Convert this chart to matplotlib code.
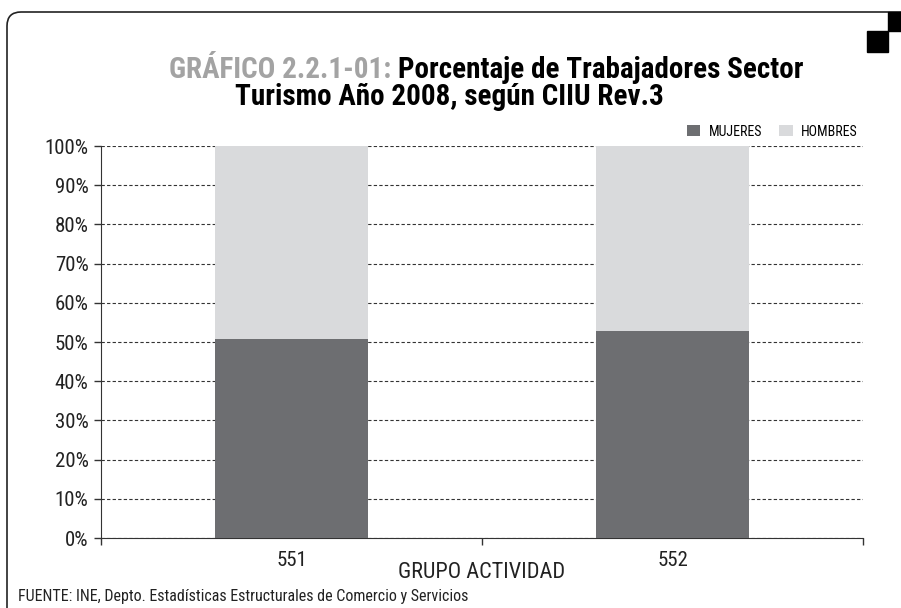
import matplotlib
matplotlib.use("Agg")
import matplotlib.pyplot as plt
from matplotlib.patches import FancyBboxPatch, Rectangle
from matplotlib.transforms import IdentityTransform

# data
grupos = ["551", "552"]
mujeres = [50.8, 52.8]
hombres = [100 - m for m in mujeres]
yticks = list(range(0, 101, 10))

c_muj = "#6d6e71"
c_hom = "#d9dadc"

plt.rcParams['font.family'] = ['Roboto Condensed', 'Liberation Sans Narrow', 'Roboto', 'DejaVu Sans']

W, H = 901, 608
fig = plt.figure(figsize=(W / 100, H / 100), dpi=100)
ax = fig.add_axes([101 / W, 1 - 538 / H, 762 / W, 392 / H])

x = range(len(grupos))
ax.bar(x, mujeres, width=0.404, color=c_muj, zorder=3, label="MUJERES")
ax.bar(x, hombres, width=0.404, bottom=mujeres, color=c_hom, zorder=3, label="HOMBRES")

ax.set_xlim(-0.5, 1.5)
ax.set_ylim(0, 100)
ax.set_yticks(yticks)
ax.set_yticklabels([f"{t}%" for t in yticks], fontsize=15, color="#222222")
ax.set_xticks([-0.5, 0.5, 1.5])
ax.set_xticklabels([])
ax.set_xticks(list(x), minor=True)
ax.set_xticklabels(grupos, minor=True, fontsize=15, color="#222222")
ax.tick_params(axis='x', which='minor', length=0, pad=9)
ax.tick_params(axis='x', which='major', length=5, direction='out', width=1, color="#333333")
ax.tick_params(axis='y', length=5, width=1, pad=4, color="#333333")
ax.yaxis.grid(True, linestyle=(0, (3, 2)), color="#333333", linewidth=0.8, zorder=0)
for s in ["top", "right"]:
    ax.spines[s].set_visible(False)
ax.spines["left"].set_color("#333333")
ax.spines["bottom"].set_color("#333333")
ax.set_xlabel("GRUPO ACTIVIDAD", fontsize=16, va="center", color="#222222")
ax.xaxis.set_label_coords(0.5, (538 - 572) / 392)

leg = ax.legend(loc="lower right", bbox_to_anchor=(0.997, 1.012), ncol=2, frameon=False,
                fontsize=10, handlelength=1.0, handleheight=0.9, columnspacing=1.2,
                handletextpad=0.6, borderpad=0.1, borderaxespad=0.1)

# title in two colours, first line built from two texts
ty1 = 1 - 70 / H
t_gray = fig.text(0, ty1, "GRÁFICO 2.2.1-01: ", color="#a3a3a3", fontsize=21,
                  fontweight="heavy", ha="left", va="center")
t_black = fig.text(0, ty1, "Porcentaje de Trabajadores Sector", color="black",
                   fontsize=21, fontweight="heavy", ha="left", va="center")
r = fig.canvas.get_renderer()
wg = t_gray.get_window_extent(r).width
wb = t_black.get_window_extent(r).width
x0 = 486 - (wg + wb) / 2
t_gray.set_x(x0 / W)
t_black.set_x((x0 + wg) / W)
fig.text(449 / W, 1 - 97 / H, "Turismo Año 2008, según CIIU Rev.3", color="black",
         fontsize=21, fontweight="heavy", ha="center", va="center")

fig.text(18 / W, 1 - 597 / H,
         "FUENTE: INE, Depto. Estadísticas Estructurales de Comercio y Servicios",
         fontsize=11.5, ha="left", va="center", color="#222222")

# frame and corner squares (pixel coordinates)
frame = FancyBboxPatch((7, -20), 1000, H - 12 + 20,
                       boxstyle="round,pad=0,rounding_size=14",
                       transform=IdentityTransform(), fill=False, edgecolor="#222222",
                       linewidth=1.2)
fig.patches.append(frame)
fig.patches.append(Rectangle((888, H - 31), 13, 19, transform=IdentityTransform(),
                             color="black"))
fig.patches.append(Rectangle((867, H - 52), 21, 21, transform=IdentityTransform(),
                             color="black"))

fig.savefig("out.png", dpi=100)
